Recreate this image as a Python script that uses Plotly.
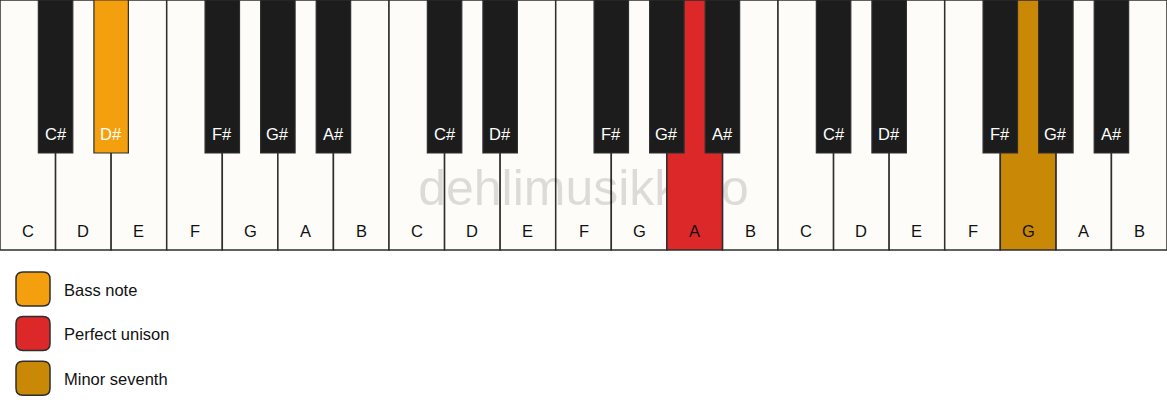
"""
Clavier de piano : note de basse, unisson et septième mineure.
"""

import plotly.graph_objects as go

# données
white_notes = ["C", "D", "E", "F", "G", "A", "B"]
black_notes = ["C#", "D#", "F#", "G#", "A#"]
black_after = [1, 2, 4, 5, 6]          # frontière blanche où se trouve chaque touche noire
n_octaves = 3

highlight_notes = ["D#", "A", "G"]
highlight_octaves = [0, 1, 2]
legend_labels = ["Bass note", "Perfect unison", "Minor seventh"]
legend_colors = ["#f4a00e", "#dc2828", "#c98906"]
label_colors = ["white", "#111111", "#111111"]

watermark = "dehlimusikk.no"

# dimensions (pixels)
W, H = 1167, 417
KB_H = 250
BLACK_H = 153
BLACK_W = 0.62
FONT = "Liberation Sans, Arial, sans-serif"
OUTLINE = "#2e2e2e"

n_white = len(white_notes) * n_octaves
px = n_white / W  # un pixel en unités de touche blanche


def highlight_of(note, octave):
    for i, (n, o) in enumerate(zip(highlight_notes, highlight_octaves)):
        if n == note and o == octave:
            return i
    return None


def rounded_rect(x0, y0, x1, y1, r):
    rx = r * px
    return (f"M {x0 + rx},{y0} L {x1 - rx},{y0} Q {x1},{y0} {x1},{y0 + r} "
            f"L {x1},{y1 - r} Q {x1},{y1} {x1 - rx},{y1} L {x0 + rx},{y1} "
            f"Q {x0},{y1} {x0},{y1 - r} L {x0},{y0 + r} Q {x0},{y0} {x0 + rx},{y0} Z")


fig = go.Figure()
shapes = []
annotations = []

# touches blanches
for o in range(n_octaves):
    for k, note in enumerate(white_notes):
        i = o * len(white_notes) + k
        h = highlight_of(note, o)
        fill = "#fdfcf9" if h is None else legend_colors[h]
        shapes.append(dict(type="rect", x0=i, x1=i + 1, y0=0, y1=KB_H,
                           fillcolor=fill, line=dict(color=OUTLINE, width=1.5),
                           layer="below" if h is None else "above"))
        annotations.append(dict(x=i + 0.5, y=231, text=note, showarrow=False,
                                font=dict(family=FONT, size=16.5,
                                          color="#111111" if h is None else label_colors[h])))

# touches noires
for o in range(n_octaves):
    for note, b in zip(black_notes, black_after):
        c = o * len(white_notes) + b
        h = highlight_of(note, o)
        fill = "#1c1c1c" if h is None else legend_colors[h]
        shapes.append(dict(type="rect", x0=c - BLACK_W / 2, x1=c + BLACK_W / 2,
                           y0=0, y1=BLACK_H, fillcolor=fill,
                           line=dict(color=OUTLINE, width=1.2), layer="above"))
        annotations.append(dict(x=c, y=133.5, text=note, showarrow=False,
                                font=dict(family=FONT, size=16.5,
                                          color="white" if h is None else label_colors[h])))

# légende
for j, (lab, col) in enumerate(zip(legend_labels, legend_colors)):
    y0 = 272 + j * 44.6
    shapes.append(dict(type="path", path=rounded_rect(16 * px, y0, 50 * px, y0 + 34, 7),
                       fillcolor=col, line=dict(color=OUTLINE, width=1.5), layer="above"))
    annotations.append(dict(x=62 * px, y=y0 + 17.5, text=lab, showarrow=False,
                            xanchor="left", font=dict(family=FONT, size=16.5, color="#111111")))

# filigrane (sous les touches colorées)
fig.add_trace(go.Scatter(x=[n_white / 2], y=[192], text=[watermark], mode="text",
                         textfont=dict(family=FONT, size=50, color="rgba(0,0,0,0.13)"),
                         hoverinfo="skip", showlegend=False))

fig.update_layout(
    width=W, height=H,
    margin=dict(l=0, r=0, t=0, b=0),
    paper_bgcolor="white", plot_bgcolor="white",
    shapes=shapes, annotations=annotations, showlegend=False,
    xaxis=dict(range=[0, n_white], visible=False, fixedrange=True),
    yaxis=dict(range=[H, 0], visible=False, fixedrange=True),
)

fig.write_html("out.html", config={"displayModeBar": False},
               post_script="document.body.style.margin='0';")
